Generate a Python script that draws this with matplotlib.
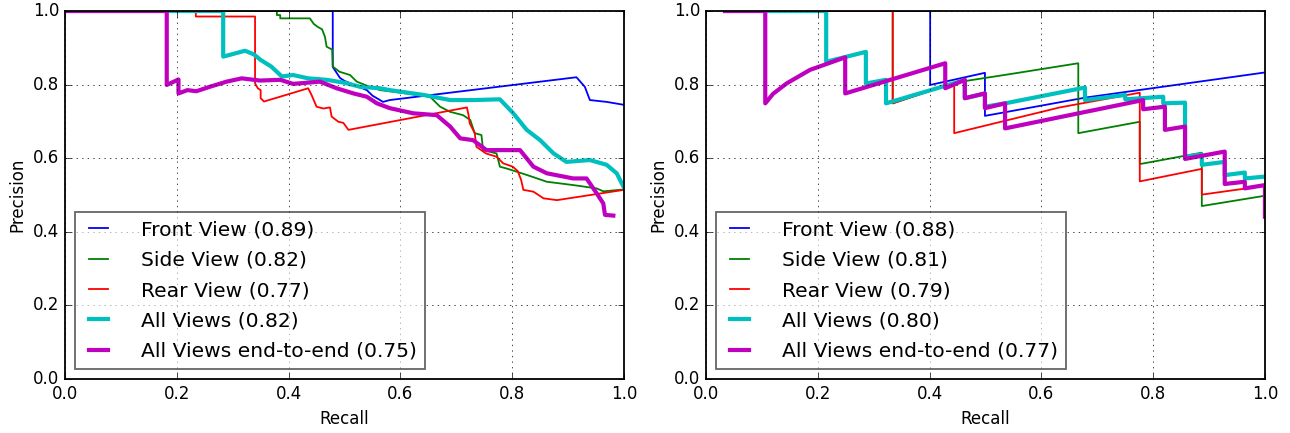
import matplotlib
matplotlib.use('Agg')
import matplotlib.pyplot as plt

plt.style.use('classic')
plt.rcParams['figure.facecolor'] = 'white'
plt.rcParams['savefig.facecolor'] = 'white'
plt.rcParams['axes.linewidth'] = 1.3

# ---- left panel: recall / precision vertices ----
l_front_r = [0.0, 0.479, 0.479, 0.492, 0.50, 0.54, 0.55, 0.569, 0.581, 0.915, 0.93, 0.939, 0.969, 1.0]
l_front_p = [1.0, 1.0, 0.848, 0.818, 0.81, 0.785, 0.77, 0.753, 0.758, 0.82, 0.794, 0.758, 0.753, 0.745]

l_side_r = [0.0, 0.379, 0.379, 0.385, 0.385, 0.438, 0.445, 0.452, 0.46, 0.465, 0.468, 0.478, 0.479,
            0.491, 0.51, 0.522, 0.545, 0.564, 0.605, 0.653, 0.671, 0.689, 0.712, 0.725, 0.733, 0.745,
            0.748, 0.772, 0.778, 0.79, 0.817, 0.833, 0.862, 0.909, 0.951, 0.963, 1.0]
l_side_p = [1.0, 1.0, 0.989, 0.989, 0.98, 0.98, 0.965, 0.957, 0.95, 0.93, 0.903, 0.895, 0.849,
            0.835, 0.826, 0.808, 0.794, 0.785, 0.777, 0.767, 0.74, 0.726, 0.717, 0.704, 0.668, 0.663,
            0.622, 0.613, 0.577, 0.572, 0.559, 0.551, 0.536, 0.527, 0.518, 0.51, 0.515]

l_rear_r = [0.0, 0.234, 0.234, 0.34, 0.34, 0.345, 0.35, 0.35, 0.356, 0.435, 0.441, 0.45, 0.462,
            0.474, 0.477, 0.489, 0.498, 0.507, 0.719, 0.722, 0.724, 0.733, 0.736, 0.753, 0.772,
            0.784, 0.801, 0.81, 0.816, 0.82, 0.838, 0.856, 0.880, 1.0]
l_rear_p = [1.0, 1.0, 0.985, 0.985, 0.803, 0.79, 0.785, 0.763, 0.754, 0.79, 0.772, 0.74, 0.735,
            0.738, 0.713, 0.699, 0.696, 0.677, 0.738, 0.717, 0.695, 0.668, 0.631, 0.613, 0.604,
            0.586, 0.577, 0.565, 0.541, 0.514, 0.509, 0.491, 0.486, 0.514]

l_all_r = [0.0, 0.283, 0.283, 0.322, 0.338, 0.35, 0.369, 0.388, 0.408, 0.435, 0.468, 0.50, 0.528,
           0.564, 0.581, 0.641, 0.689, 0.73, 0.778, 0.802, 0.826, 0.85, 0.874, 0.897, 0.939, 0.969,
           0.987, 1.0]
l_all_p = [1.0, 1.0, 0.876, 0.892, 0.882, 0.867, 0.849, 0.822, 0.826, 0.817, 0.813, 0.805, 0.794,
           0.79, 0.785, 0.772, 0.758, 0.758, 0.76, 0.722, 0.677, 0.649, 0.613, 0.59, 0.595, 0.582,
           0.559, 0.52]

l_e2e_r = [0.0, 0.182, 0.182, 0.203, 0.203, 0.219, 0.235, 0.259, 0.289, 0.316, 0.349, 0.385, 0.408,
           0.456, 0.486, 0.516, 0.54, 0.558, 0.581, 0.623, 0.665, 0.689, 0.707, 0.730, 0.754, 0.814,
           0.838, 0.862, 0.909, 0.933, 0.951, 0.963, 0.966, 0.981]
l_e2e_p = [1.0, 1.0, 0.799, 0.814, 0.776, 0.785, 0.782, 0.794, 0.808, 0.817, 0.811, 0.813, 0.802,
           0.808, 0.79, 0.776, 0.767, 0.749, 0.736, 0.722, 0.717, 0.686, 0.654, 0.649, 0.622, 0.622,
           0.577, 0.559, 0.545, 0.545, 0.505, 0.477, 0.446, 0.444]

# ---- right panel ----
r_front_r = [0.034, 0.401, 0.401, 0.499, 0.499, 0.68, 1.0]
r_front_p = [1.0, 1.0, 0.799, 0.832, 0.715, 0.765, 0.833]

r_side_r = [0.034, 0.334, 0.334, 0.444, 0.55, 0.666, 0.666, 0.776, 0.776, 0.887, 0.887, 1.0]
r_side_p = [1.0, 1.0, 0.749, 0.805, 0.83, 0.858, 0.668, 0.699, 0.584, 0.615, 0.470, 0.498]

r_rear_r = [0.034, 0.334, 0.334, 0.444, 0.444, 0.633, 0.776, 0.776, 0.887, 0.887, 1.0]
r_rear_p = [1.0, 1.0, 0.749, 0.805, 0.668, 0.738, 0.778, 0.537, 0.571, 0.501, 0.525]

r_all_r = [0.034, 0.215, 0.215, 0.286, 0.286, 0.322, 0.322, 0.442, 0.463, 0.463, 0.499, 0.499,
           0.535, 0.678, 0.678, 0.75, 0.75, 0.818, 0.818, 0.857, 0.857, 0.887, 0.887, 0.928,
           0.928, 0.964, 0.964, 1.0]
r_all_p = [1.0, 1.0, 0.862, 0.889, 0.803, 0.813, 0.749, 0.803, 0.813, 0.763, 0.776, 0.74,
           0.749, 0.792, 0.758, 0.772, 0.76, 0.767, 0.749, 0.751, 0.604, 0.61, 0.582, 0.59,
           0.554, 0.561, 0.545, 0.55]

r_e2e_r = [0.034, 0.106, 0.106, 0.12, 0.144, 0.186, 0.249, 0.249, 0.428, 0.428, 0.463, 0.463,
           0.499, 0.499, 0.535, 0.535, 0.782, 0.782, 0.821, 0.821, 0.857, 0.857, 0.928, 0.928,
           0.964, 0.964, 1.0, 1.0]
r_e2e_p = [1.0, 1.0, 0.749, 0.775, 0.803, 0.840, 0.874, 0.776, 0.858, 0.79, 0.813, 0.763,
           0.776, 0.736, 0.749, 0.681, 0.758, 0.733, 0.74, 0.677, 0.686, 0.598, 0.618, 0.53,
           0.536, 0.518, 0.527, 0.441]

left_labels = ['Front View (0.89)', 'Side View (0.82)', 'Rear View (0.77)',
               'All Views (0.82)', 'All Views end-to-end (0.75)']
right_labels = ['Front View (0.88)', 'Side View (0.81)', 'Rear View (0.79)',
                'All Views (0.80)', 'All Views end-to-end (0.77)']

colors = ['b', 'g', 'r', 'c', 'm']
widths = [1.3, 1.3, 1.3, 3.0, 3.0]


def draw_panel(ax, curves, labels):
    for (rec, prec), lab, c, lw in zip(curves, labels, colors, widths):
        ax.plot(rec, prec, color=c, linewidth=lw, label=lab)
    ax.set_xlim(0, 1)
    ax.set_ylim(0, 1)
    ax.set_xticks([0, 0.2, 0.4, 0.6, 0.8, 1.0])
    ax.set_yticks([0, 0.2, 0.4, 0.6, 0.8, 1.0])
    ax.grid(True, color='k', linestyle=':')
    ax.set_xlabel('Recall')
    ax.set_ylabel('Precision')
    leg = ax.legend(loc='lower left', fontsize=14.6, framealpha=0.6, labelspacing=0.56,
                    handlelength=1.5, handletextpad=1.35, fancybox=False)
    leg.get_frame().set_edgecolor('k')
    leg.get_frame().set_linewidth(1.3)


fig = plt.figure(figsize=(12.9, 4.33), dpi=100)
ax1 = fig.add_axes([0.0504, 0.1247, 0.4333, 0.8499])
ax2 = fig.add_axes([0.5473, 0.1247, 0.4333, 0.8499])

draw_panel(ax1, [(l_front_r, l_front_p), (l_side_r, l_side_p), (l_rear_r, l_rear_p),
                 (l_all_r, l_all_p), (l_e2e_r, l_e2e_p)], left_labels)
draw_panel(ax2, [(r_front_r, r_front_p), (r_side_r, r_side_p), (r_rear_r, r_rear_p),
                 (r_all_r, r_all_p), (r_e2e_r, r_e2e_p)], right_labels)

fig.savefig('out.png', dpi=100)
